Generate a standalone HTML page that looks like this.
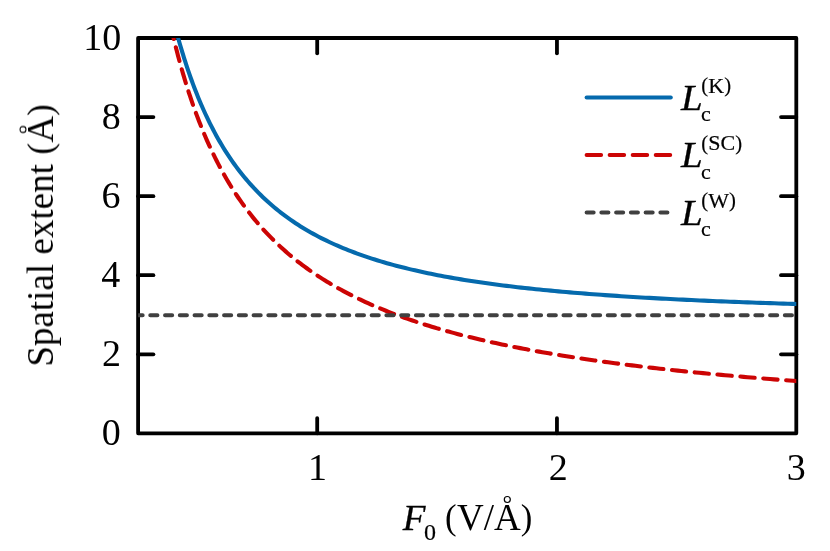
<!DOCTYPE html>
<html><head><meta charset="utf-8"><title>chart</title>
<style>
html,body{margin:0;padding:0;background:#fff;}
svg{display:block;}
text{font-family:"Liberation Serif",serif;font-size:37.0px;fill:#000;}
text.t{font-size:38.0px;}
text.s{font-size:22.0px;stroke:#000;stroke-width:0.2px;}
.p{font-size:34.78px;}
.sp{font-size:20.68px;}
text.i{font-style:italic;font-size:35.4px;stroke:#000;stroke-width:0.3px;}
</style></head>
<body>
<svg width="830" height="551" viewBox="0 0 830 551">
<rect x="0" y="0" width="830" height="551" fill="#fff"/>
<defs><clipPath id="ax"><rect x="138.1" y="38.0" width="658.20" height="395.35"/></clipPath></defs>
<g stroke="#000" stroke-width="3.8" stroke-linecap="round" stroke-linejoin="round" fill="none">
<rect x="138.1" y="38.0" width="658.20" height="395.35"/>
<line x1="317.20" y1="433.35" x2="317.20" y2="418.05"/>
<line x1="317.20" y1="38.0" x2="317.20" y2="53.3"/>
<line x1="556.95" y1="433.35" x2="556.95" y2="418.05"/>
<line x1="556.95" y1="38.0" x2="556.95" y2="53.3"/>
<line x1="138.1" y1="354.28" x2="153.4" y2="354.28"/>
<line x1="796.3" y1="354.28" x2="781.0" y2="354.28"/>
<line x1="138.1" y1="275.21" x2="153.4" y2="275.21"/>
<line x1="796.3" y1="275.21" x2="781.0" y2="275.21"/>
<line x1="138.1" y1="196.14" x2="153.4" y2="196.14"/>
<line x1="796.3" y1="196.14" x2="781.0" y2="196.14"/>
<line x1="138.1" y1="117.07" x2="153.4" y2="117.07"/>
<line x1="796.3" y1="117.07" x2="781.0" y2="117.07"/>
</g>
<g clip-path="url(#ax)" fill="none" stroke-width="4.1" stroke-linecap="round" stroke-linejoin="round">
<path d="M173.65,21.04 L173.76,21.49 L173.99,22.38 L174.30,23.59 L174.68,25.07 L175.12,26.77 L175.62,28.67 L176.17,30.74 L176.78,32.98 L177.42,35.36 L178.12,37.86 L178.85,40.49 L179.63,43.21 L180.45,46.03 L181.30,48.94 L182.20,51.91 L183.13,54.96 L184.09,58.06 L185.09,61.21 L186.12,64.40 L187.19,67.63 L188.29,70.89 L189.42,74.17 L190.59,77.47 L191.78,80.78 L193.00,84.11 L194.26,87.43 L195.54,90.76 L196.85,94.08 L198.19,97.40 L199.56,100.71 L200.95,104.00 L202.38,107.27 L203.82,110.53 L205.30,113.76 L206.80,116.98 L208.33,120.16 L209.89,123.32 L211.47,126.45 L213.07,129.55 L214.70,132.62 L216.35,135.65 L218.03,138.65 L219.74,141.62 L221.46,144.55 L223.21,147.44 L224.99,150.30 L226.78,153.11 L228.61,155.89 L230.45,158.63 L232.31,161.33 L234.20,164.00 L236.11,166.62 L238.05,169.20 L240.00,171.75 L241.98,174.25 L243.98,176.72 L246.00,179.15 L248.04,181.53 L250.10,183.88 L252.19,186.19 L254.29,188.46 L256.42,190.70 L258.56,192.89 L260.73,195.05 L262.92,197.17 L265.12,199.26 L267.35,201.30 L269.60,203.32 L271.87,205.29 L274.15,207.23 L276.46,209.14 L278.79,211.01 L281.13,212.85 L283.50,214.66 L285.88,216.43 L288.29,218.17 L290.71,219.88 L293.15,221.55 L295.61,223.20 L298.09,224.81 L300.59,226.40 L303.11,227.96 L305.64,229.48 L308.20,230.98 L310.77,232.45 L313.36,233.89 L315.97,235.31 L318.59,236.70 L321.24,238.06 L323.90,239.40 L326.58,240.71 L329.28,242.00 L331.99,243.26 L334.72,244.50 L337.47,245.71 L340.24,246.91 L343.03,248.07 L345.83,249.22 L348.65,250.35 L351.49,251.45 L354.34,252.53 L357.21,253.60 L360.10,254.64 L363.00,255.66 L365.93,256.67 L368.86,257.65 L371.82,258.61 L374.79,259.56 L377.78,260.49 L380.78,261.40 L383.80,262.30 L386.84,263.17 L389.90,264.03 L392.97,264.88 L396.05,265.71 L399.15,266.52 L402.27,267.32 L405.41,268.10 L408.56,268.87 L411.72,269.62 L414.91,270.36 L418.10,271.08 L421.32,271.80 L424.55,272.49 L427.79,273.18 L431.05,273.85 L434.33,274.51 L437.62,275.16 L440.93,275.80 L444.25,276.42 L447.59,277.03 L450.94,277.63 L454.31,278.22 L457.70,278.80 L461.10,279.37 L464.51,279.93 L467.94,280.47 L471.38,281.01 L474.84,281.54 L478.32,282.06 L481.81,282.57 L485.31,283.06 L488.83,283.55 L492.36,284.04 L495.91,284.51 L499.48,284.97 L503.05,285.43 L506.65,285.88 L510.25,286.32 L513.88,286.75 L517.51,287.17 L521.16,287.59 L524.83,288.00 L528.51,288.40 L532.20,288.79 L535.91,289.18 L539.63,289.56 L543.37,289.93 L547.12,290.30 L550.89,290.66 L554.67,291.02 L558.46,291.36 L562.27,291.71 L566.09,292.04 L569.92,292.37 L573.77,292.70 L577.64,293.02 L581.51,293.33 L585.41,293.64 L589.31,293.94 L593.23,294.24 L597.16,294.53 L601.11,294.82 L605.07,295.10 L609.04,295.38 L613.03,295.65 L617.03,295.92 L621.05,296.19 L625.08,296.45 L629.12,296.70 L633.17,296.95 L637.24,297.20 L641.32,297.44 L645.42,297.68 L649.53,297.92 L653.65,298.15 L657.79,298.38 L661.94,298.60 L666.10,298.82 L670.27,299.04 L674.46,299.25 L678.66,299.46 L682.88,299.66 L687.11,299.87 L691.35,300.06 L695.60,300.26 L699.87,300.45 L704.15,300.64 L708.44,300.83 L712.75,301.01 L717.07,301.19 L721.40,301.37 L725.75,301.55 L730.10,301.72 L734.48,301.89 L738.86,302.06 L743.26,302.22 L747.66,302.38 L752.09,302.54 L756.52,302.70 L760.97,302.85 L765.43,303.01 L769.90,303.16 L774.39,303.30 L778.88,303.45 L783.39,303.59 L787.92,303.73 L792.45,303.87 L797.00,304.01" stroke="#056aad"/>
<path d="M170.05,23.05 L170.14,23.43 L170.32,24.21 L170.55,25.26 L170.85,26.55 L171.19,28.03 L171.57,29.69 L172.00,31.51 L172.46,33.47 L172.96,35.57 L173.49,37.78 L174.05,40.11 L174.65,42.54 L175.28,45.06 L175.94,47.67 L176.63,50.35 L177.34,53.10 L178.08,55.92 L178.85,58.79 L179.65,61.72 L180.47,64.69 L181.31,67.70 L182.18,70.75 L183.08,73.83 L183.99,76.94 L184.94,80.08 L185.90,83.23 L186.89,86.40 L187.89,89.58 L188.92,92.77 L189.98,95.96 L191.05,99.16 L192.14,102.36 L193.26,105.56 L194.39,108.76 L195.55,111.95 L196.72,115.13 L197.92,118.30 L199.13,121.45 L200.37,124.60 L201.62,127.72 L202.89,130.84 L204.18,133.93 L205.49,137.00 L206.82,140.06 L208.17,143.09 L209.53,146.10 L210.91,149.08 L212.31,152.05 L213.73,154.98 L215.17,157.89 L216.62,160.78 L218.09,163.64 L219.58,166.47 L221.08,169.27 L222.60,172.05 L224.14,174.80 L225.69,177.52 L227.26,180.21 L228.85,182.87 L230.45,185.50 L232.07,188.11 L233.70,190.68 L235.35,193.23 L237.02,195.75 L238.70,198.23 L240.40,200.69 L242.11,203.12 L243.84,205.52 L245.58,207.90 L247.34,210.24 L249.12,212.55 L250.90,214.84 L252.71,217.10 L254.53,219.33 L256.36,221.53 L258.21,223.70 L260.07,225.85 L261.95,227.97 L263.84,230.06 L265.75,232.13 L267.67,234.17 L269.61,236.18 L271.56,238.17 L273.52,240.13 L275.50,242.07 L277.49,243.98 L279.50,245.87 L281.51,247.73 L283.55,249.57 L285.60,251.39 L287.66,253.18 L289.73,254.94 L291.82,256.69 L293.92,258.41 L296.04,260.11 L298.16,261.79 L300.31,263.44 L302.46,265.08 L304.63,266.69 L306.81,268.28 L309.01,269.85 L311.21,271.40 L313.43,272.93 L315.67,274.44 L317.91,275.93 L320.17,277.40 L322.45,278.86 L324.73,280.29 L327.03,281.71 L329.34,283.10 L331.66,284.48 L334.00,285.84 L336.35,287.19 L338.71,288.51 L341.08,289.82 L343.47,291.11 L345.87,292.39 L348.28,293.65 L350.70,294.89 L353.13,296.12 L355.58,297.34 L358.04,298.53 L360.51,299.72 L363.00,300.88 L365.49,302.04 L368.00,303.17 L370.52,304.30 L373.05,305.41 L375.59,306.50 L378.15,307.59 L380.72,308.66 L383.29,309.71 L385.88,310.76 L388.49,311.79 L391.10,312.80 L393.73,313.81 L396.36,314.80 L399.01,315.78 L401.67,316.75 L404.34,317.71 L407.03,318.66 L409.72,319.59 L412.43,320.52 L415.15,321.43 L417.88,322.33 L420.62,323.22 L423.37,324.10 L426.13,324.97 L428.90,325.83 L431.69,326.68 L434.49,327.52 L437.29,328.35 L440.11,329.17 L442.94,329.98 L445.78,330.78 L448.63,331.57 L451.50,332.36 L454.37,333.13 L457.25,333.90 L460.15,334.65 L463.06,335.40 L465.97,336.14 L468.90,336.87 L471.84,337.59 L474.79,338.31 L477.75,339.02 L480.72,339.71 L483.70,340.41 L486.70,341.09 L489.70,341.76 L492.71,342.43 L495.74,343.09 L498.77,343.75 L501.82,344.39 L504.87,345.03 L507.94,345.67 L511.02,346.29 L514.10,346.91 L517.20,347.52 L520.31,348.13 L523.43,348.73 L526.56,349.32 L529.70,349.91 L532.85,350.49 L536.01,351.06 L539.18,351.63 L542.36,352.20 L545.55,352.75 L548.75,353.30 L551.96,353.85 L555.18,354.39 L558.41,354.92 L561.65,355.45 L564.90,355.97 L568.17,356.49 L571.44,357.00 L574.72,357.51 L578.01,358.01 L581.31,358.51 L584.62,359.00 L587.95,359.49 L591.28,359.97 L594.62,360.45 L597.97,360.92 L601.33,361.39 L604.70,361.85 L608.08,362.31 L611.47,362.76 L614.87,363.21 L618.28,363.66 L621.70,364.10 L625.13,364.54 L628.57,364.97 L632.02,365.40 L635.48,365.82 L638.95,366.24 L642.43,366.66 L645.92,367.07 L649.41,367.48 L652.92,367.88 L656.44,368.28 L659.96,368.68 L663.50,369.07 L667.04,369.46 L670.60,369.85 L674.16,370.23 L677.74,370.61 L681.32,370.98 L684.91,371.36 L688.51,371.72 L692.13,372.09 L695.75,372.45 L699.38,372.81 L703.02,373.16 L706.66,373.52 L710.32,373.86 L713.99,374.21 L717.67,374.55 L721.35,374.89 L725.05,375.23 L728.75,375.56 L732.47,375.89 L736.19,376.22 L739.92,376.54 L743.66,376.86 L747.41,377.18 L751.17,377.50 L754.94,377.81 L758.72,378.12 L762.51,378.43 L766.30,378.74 L770.11,379.04 L773.92,379.34 L777.75,379.64 L781.58,379.93 L785.42,380.22 L789.27,380.51 L793.13,380.80 L797.00,381.09" stroke="#cc0404" stroke-dasharray="0.00 1.79 14.52 8.60 14.18 8.60 14.44 8.60 14.26 8.60 14.00 8.60 13.92 8.60 14.03 8.60 14.30 8.60 14.11 8.60 13.66 8.60 14.13 8.60 15.33 8.60 15.99 8.60 15.63 8.60 14.83 8.60 14.60 8.60 14.88 8.60 15.12 8.60 14.91 8.60 14.47 8.60 14.41 8.60 14.39 8.60 14.24 8.60 14.07 8.60 13.98 8.60 14.14 8.60 14.30 8.60 14.27 8.60 14.17 8.60 14.18 8.60 14.32 8.60 14.41 8.60 14.36 8.60 14.37 8.60 14.52 8.60 14.52 8.60"/>
<line x1="135.57" y1="315.18" x2="800" y2="315.18" stroke="#404040" stroke-dasharray="7.05 7.707" stroke-dashoffset="0.0"/>
</g>
<g id="txt" opacity="0.999">
<g>
<text x="120.75" y="445.15" text-anchor="end" class="t">0</text>
<text x="121.05" y="366.08" text-anchor="end" class="t">2</text>
<text x="120.2" y="287.01" text-anchor="end" class="t">4</text>
<text x="120.55" y="207.94" text-anchor="end" class="t">6</text>
<text x="120.7" y="128.87" text-anchor="end" class="t">8</text>
<text x="121.2" y="49.80" text-anchor="end" class="t">10</text>
<text x="317.60" y="479.5" text-anchor="middle" class="t">1</text>
<text x="558.20" y="479.5" text-anchor="middle" class="t">2</text>
<text x="796.30" y="479.5" text-anchor="middle" class="t">3</text>
</g>
<g transform="translate(53.0,366.6) rotate(-90)">
<text x="0" y="0">Spatial extent <tspan class="p" dx="0.25" dy="-0.86">(</tspan><tspan dx="0.48" dy="0.86">A</tspan><tspan class="p" dy="-0.86">)</tspan></text>
<circle cx="237.1" cy="-30.0" r="3.0" fill="none" stroke="#000" stroke-width="1.2"/>
</g>
<g>
<text x="402.8" y="529.5" class="i" style="font-size:36.4px" textLength="22.7" lengthAdjust="spacingAndGlyphs">F</text>
<text x="424.0" y="540.4" class="s" style="font-size:24px">0</text>
<text x="444.7" y="529.5"><tspan class="p" dx="0.25" dy="-0.86">(</tspan><tspan dx="0.48" dy="0.86">V/A</tspan><tspan class="p" dy="-0.86">)</tspan></text>
<circle cx="507.3" cy="499.5" r="3.0" fill="none" stroke="#000" stroke-width="1.2"/>
</g>
<line x1="586.6" y1="97.45" x2="670.8" y2="97.45" stroke="#056aad" stroke-width="4.0" stroke-linecap="round"/>
<text x="681.1" y="109.70" class="i" textLength="21.7" lengthAdjust="spacingAndGlyphs">L</text>
<text x="700.9" y="121.00" class="s">c</text>
<text x="701.0" y="92.80" class="s"><tspan class="sp" dx="0.15" dy="-0.5">(</tspan><tspan dx="0.3" dy="0.5">K</tspan><tspan class="sp" dy="-0.5">)</tspan></text>
<line x1="586.6" y1="155.05" x2="670.8" y2="155.05" stroke="#cc0404" stroke-width="4.0" stroke-linecap="round" stroke-dasharray="14.5 8.54"/>
<text x="681.1" y="167.30" class="i" textLength="21.7" lengthAdjust="spacingAndGlyphs">L</text>
<text x="700.9" y="178.60" class="s">c</text>
<text x="701.0" y="150.40" class="s"><tspan class="sp" dx="0.15" dy="-0.5">(</tspan><tspan dx="0.3" dy="0.5">SC</tspan><tspan class="sp" dy="-0.5">)</tspan></text>
<line x1="586.6" y1="212.45" x2="670.8" y2="212.45" stroke="#404040" stroke-width="4.0" stroke-linecap="round" stroke-dasharray="7.05 7.707"/>
<text x="681.1" y="224.70" class="i" textLength="21.7" lengthAdjust="spacingAndGlyphs">L</text>
<text x="700.9" y="236.00" class="s">c</text>
<text x="701.0" y="207.80" class="s"><tspan class="sp" dx="0.15" dy="-0.5">(</tspan><tspan dx="0.3" dy="0.5">W</tspan><tspan class="sp" dy="-0.5">)</tspan></text>
</g>
</svg>
</body></html>
